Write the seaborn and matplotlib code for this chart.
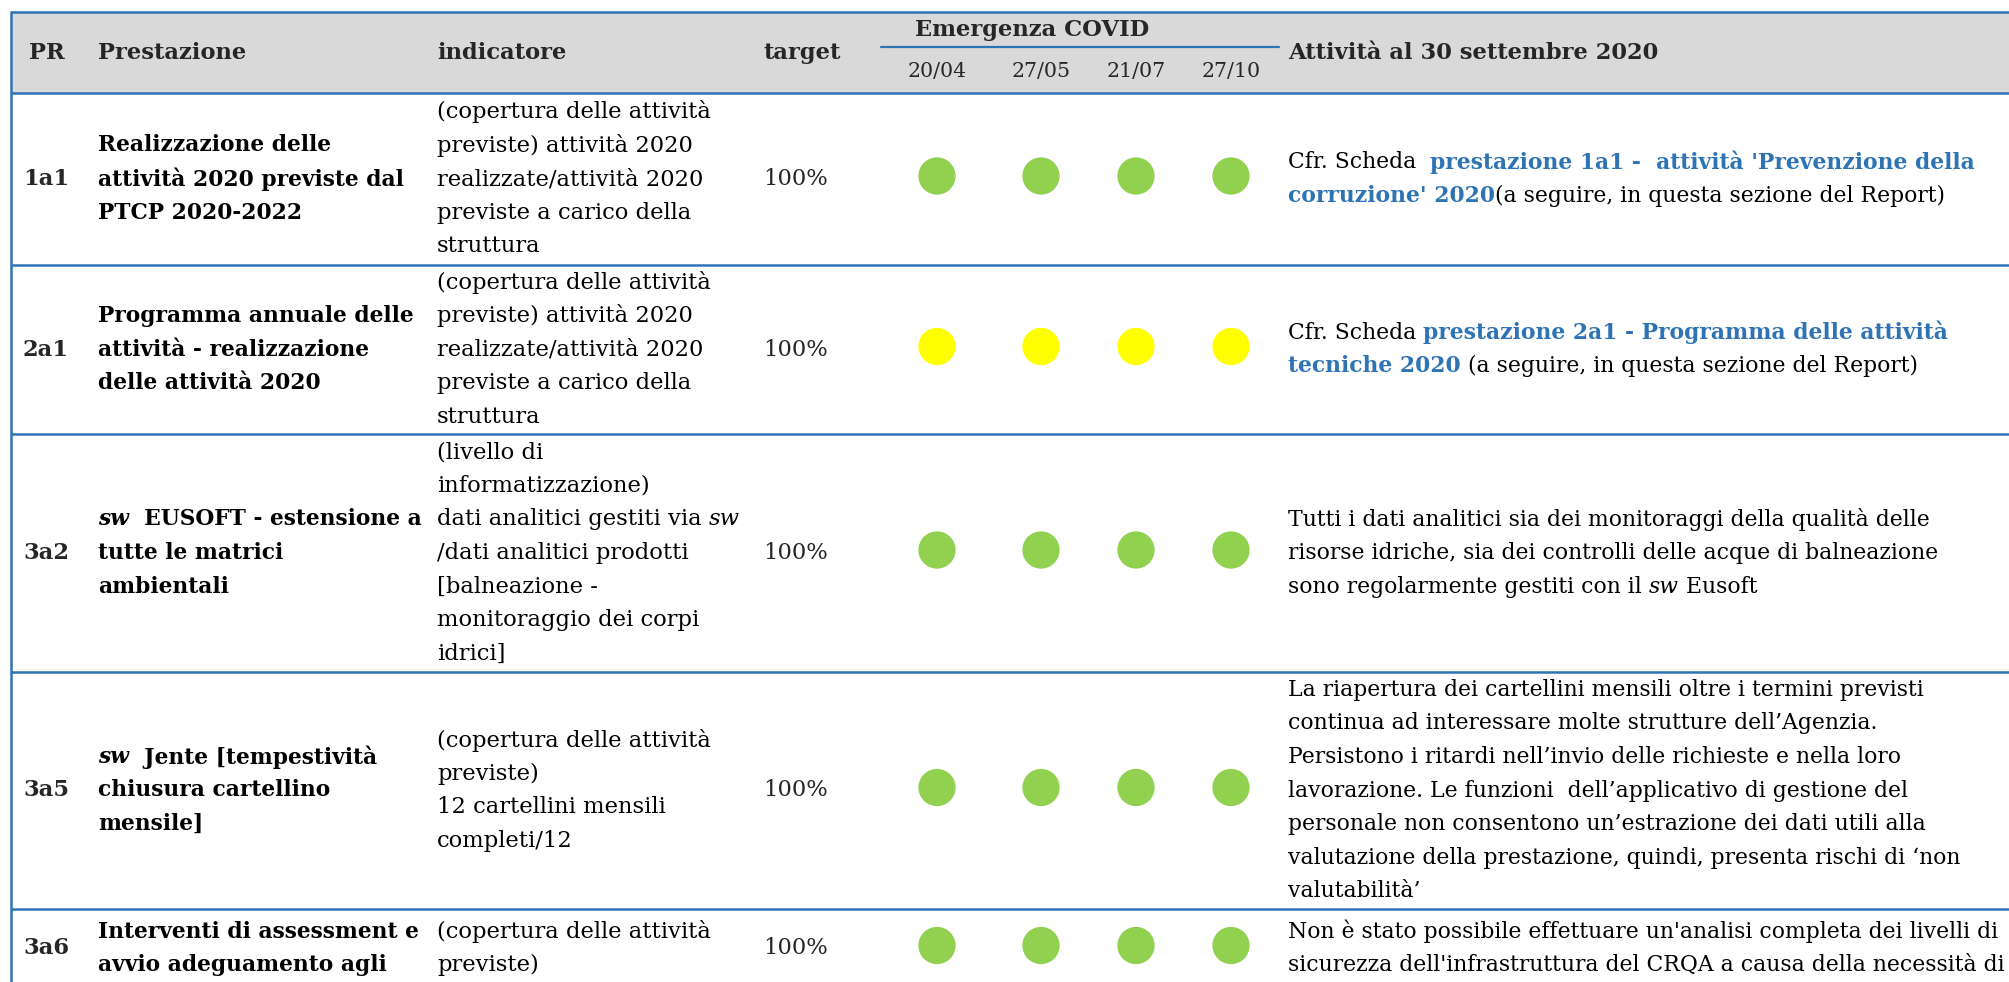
import numpy as np
import pandas as pd
import seaborn as sns
import matplotlib.pyplot as plt

# ---- data ----
pr_codes = ["1a1", "2a1", "3a2", "3a5", "3a6"]
dates = ["20/04", "27/05", "21/07", "27/10"]
status = [
    ["verde", "verde", "verde", "verde"],
    ["giallo", "giallo", "giallo", "giallo"],
    ["verde", "verde", "verde", "verde"],
    ["verde", "verde", "verde", "verde"],
    ["verde", "verde", "verde", "verde"],
]
target = ["100%", "100%", "100%", "100%", "100%"]

# lines: plain string = column default style, list = runs of (text, style)
prestazione = [
    ["Realizzazione delle", "attività 2020 previste dal", "PTCP 2020-2022"],
    ["Programma annuale delle", "attività - realizzazione", "delle attività 2020"],
    [[("sw", "bi"), ("  EUSOFT - estensione a", "b")], "tutte le matrici", "ambientali"],
    [[("sw", "bi"), ("  Jente [tempestività", "b")], "chiusura cartellino", "mensile]"],
    ["Interventi di assessment e", "avvio adeguamento agli"],
]
indicatore = [
    ["(copertura delle attività", "previste) attività 2020", "realizzate/attività 2020",
     "previste a carico della", "struttura"],
    ["(copertura delle attività", "previste) attività 2020", "realizzate/attività 2020",
     "previste a carico della", "struttura"],
    ["(livello di", "informatizzazione)", [("dati analitici gestiti via ", "n"), ("sw", "i")],
     "/dati analitici prodotti", "[balneazione -", "monitoraggio dei corpi", "idrici]"],
    ["(copertura delle attività", "previste)", "12 cartellini mensili", "completi/12"],
    ["(copertura delle attività", "previste)"],
]
attivita = [
    [[("Cfr. Scheda  ", "n"), ("prestazione 1a1 -  attività 'Prevenzione della", "l")],
     [("corruzione' 2020", "l"), ("(a seguire, in questa sezione del Report)", "n")]],
    [[("Cfr. Scheda ", "n"), ("prestazione 2a1 - Programma delle attività", "l")],
     [("tecniche 2020", "l"), (" (a seguire, in questa sezione del Report)", "n")]],
    ["Tutti i dati analitici sia dei monitoraggi della qualità delle",
     "risorse idriche, sia dei controlli delle acque di balneazione",
     [("sono regolarmente gestiti con il ", "n"), ("sw", "i"), (" Eusoft", "n")]],
    ["La riapertura dei cartellini mensili oltre i termini previsti",
     "continua ad interessare molte strutture dell’Agenzia.",
     "Persistono i ritardi nell’invio delle richieste e nella loro",
     "lavorazione. Le funzioni  dell’applicativo di gestione del",
     "personale non consentono un’estrazione dei dati utili alla",
     "valutazione della prestazione, quindi, presenta rischi di ‘non",
     "valutabilità’"],
    ["Non è stato possibile effettuare un'analisi completa dei livelli di",
     "sicurezza dell'infrastruttura del CRQA a causa della necessità di"],
]

# ---- layout (pixels) ----
W, H = 2009, 982
row_edges = [93, 265, 434, 672, 909, 988]
col_x = {"pr": 23, "prest": 98, "ind": 437, "target": 763, "att": 1288}
date_x = dict(zip(dates, [937, 1041, 1136, 1231]))
line_h = 33.6
blue = "#2E74B5"
FS = 16.3
FS_ATT = 15.75
FONT = "DejaVu Serif"

styles = {
    "n": dict(fontweight="normal", fontstyle="normal", color="black"),
    "b": dict(fontweight="bold", fontstyle="normal", color="black"),
    "i": dict(fontweight="normal", fontstyle="italic", color="black"),
    "bi": dict(fontweight="bold", fontstyle="italic", color="black"),
    "l": dict(fontweight="bold", fontstyle="normal", color=blue),
}

sns.set_theme(style="white")
plt.rcParams["font.family"] = [FONT, "Liberation Serif"]

fig = plt.figure(figsize=(W / 100, H / 100), dpi=100)
ax = fig.add_axes([0, 0, 1, 1])
ax.set_xlim(0, W)
ax.set_ylim(H, 0)
ax.axis("off")
renderer = fig.canvas.get_renderer()


def draw_line(x, y, line, default, fs=FS):
    runs = [(line, default)] if isinstance(line, str) else line
    for text, st in runs:
        t = ax.text(x, y, text, va="center", ha="left", fontsize=fs, **styles[st])
        x += t.get_window_extent(renderer).width


def draw_cell(x, yc, lines, default, fs=FS):
    n = len(lines)
    for i, line in enumerate(lines):
        draw_line(x, yc + (i - (n - 1) / 2) * line_h, line, default, fs)


# header
ax.add_patch(plt.Rectangle((11, 12), W, row_edges[0] - 12, color="#D9D9D9", zorder=0))
hy = 53
for key, label in [("pr", "PR"), ("prest", "Prestazione"), ("ind", "indicatore"),
                   ("target", "target"), ("att", "Attività al 30 settembre 2020")]:
    x = col_x[key] + (6 if key == "pr" else 0)
    ax.text(x, hy, label, va="center", ha="left", fontsize=FS, fontweight="bold")
ax.text(1032, 30, "Emergenza COVID", va="center", ha="center",
        fontsize=FS, fontweight="bold")
ax.plot([881, 1279], [47, 47], color=blue, lw=1.6)
for d in dates:
    ax.text(date_x[d], 71, d, va="center", ha="center", fontsize=FS - 1.5)

# borders
for y in [12] + row_edges[:-1]:
    ax.plot([11, W], [y, y], color=blue, lw=1.8, solid_capstyle="butt")
ax.plot([11, 11], [12, H], color=blue, lw=1.8)

# rows
centers = [(a + b) / 2 for a, b in zip(row_edges[:-1], row_edges[1:])]
for r, yc in enumerate(centers):
    ax.text(col_x["pr"], yc, pr_codes[r], va="center", ha="left", fontsize=FS, fontweight="bold")
    draw_cell(col_x["prest"], yc, prestazione[r], "b", FS - 0.6)
    draw_cell(col_x["ind"], yc, indicatore[r], "n")
    ax.text(col_x["target"], yc, target[r], va="center", ha="left", fontsize=FS)
    draw_cell(col_x["att"], yc, attivita[r], "n", FS_ATT)

# status dots
df = pd.DataFrame([
    {"x": date_x[d], "y": centers[r] - 3, "stato": status[r][j]}
    for r in range(len(pr_codes)) for j, d in enumerate(dates)
])
sns.scatterplot(data=df, x="x", y="y", hue="stato",
                palette={"verde": "#92D050", "giallo": "#FFFF00"},
                s=720, linewidth=0, legend=False, ax=ax, zorder=3)
ax.set_xlim(0, W)
ax.set_ylim(H, 0)
ax.axis("off")

fig.savefig("out.png", dpi=100)
